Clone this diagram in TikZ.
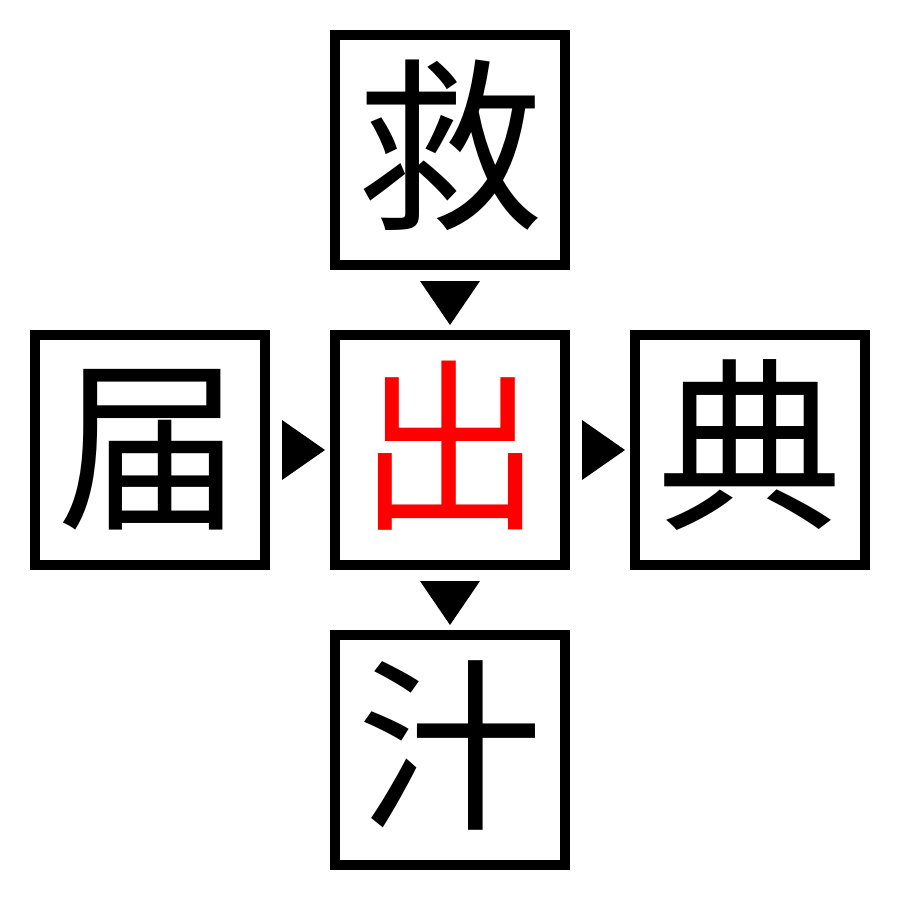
\documentclass[tikz,border=0pt]{standalone}
\usepackage{fontspec}
\newfontfamily\cjk{Noto Sans CJK JP}
\begin{document}
\begin{tikzpicture}[x=1pt,y=-1pt,
  cbox/.style={draw=black,line width=10pt,minimum size=230pt,inner sep=0pt,
    font=\cjk\fontsize{185pt}{185pt}\selectfont,text height=150pt,text depth=20pt},
  tri/.style={fill=black}]
\useasboundingbox (0,0) rectangle (900,900);
\node[cbox] (top) at (450,150) {救};
\node[cbox] (left) at (150,450) {届};
\node[cbox,text=red] (mid) at (450,450) {出};
\node[cbox] (right) at (750,450) {典};
\node[cbox] (bot) at (450,750) {汁};
\fill[tri] (420,281) -- (480,281) -- (450,325) -- cycle;
\fill[tri] (420,581) -- (480,581) -- (450,625) -- cycle;
\fill[tri] (282,420) -- (282,480) -- (325,450) -- cycle;
\fill[tri] (582,420) -- (582,480) -- (625,450) -- cycle;
\end{tikzpicture}
\end{document}
